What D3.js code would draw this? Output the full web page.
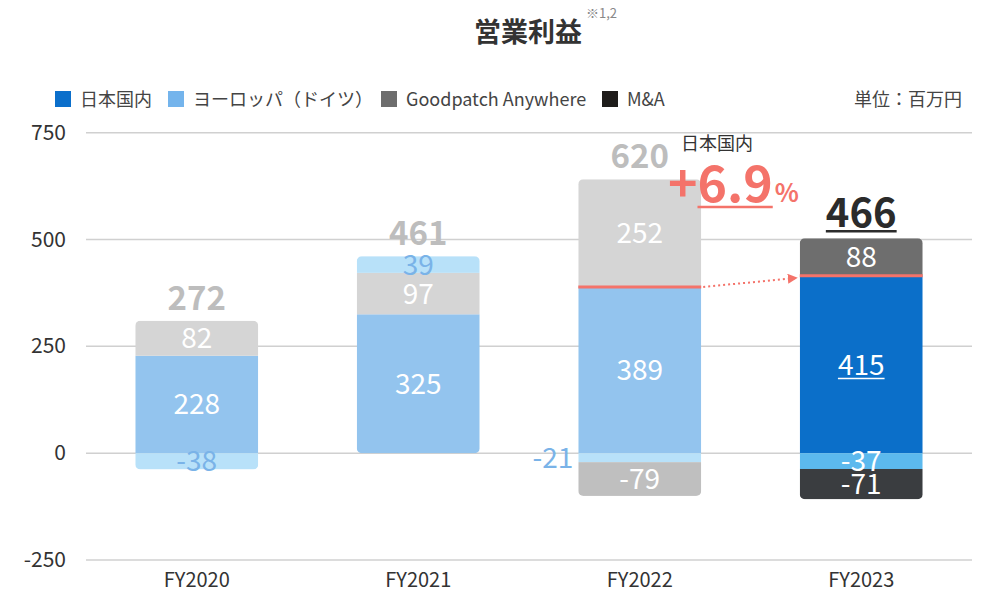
<!DOCTYPE html>
<html>
<head>
<meta charset="utf-8">
<style>
  body { margin: 0; background: #fff; }
  svg { font-family: "Noto Sans CJK JP", "Noto Sans", sans-serif; }
</style>
</head>
<body>
<svg id="chart" width="984" height="594"></svg>
<script src="https://cdn.jsdelivr.net/npm/d3@7"></script>
<script>
// data
var years    = ["FY2020", "FY2021", "FY2022", "FY2023"];
var domestic = [228, 325, 389, 415];
var europe   = [-38, 39, -21, -37];
var anywhere = [82, 97, 252, 88];
var mna      = [0, 0, -79, -71];
var totals   = [272, 461, 620, 466];
var yTicks   = [-250, 0, 250, 500, 750];

var legendNames  = ["日本国内", "ヨーロッパ（ドイツ）", "Goodpatch Anywhere", "M&A"];
var legendColors = ["#0b6fcb", "#74b4ec", "#6d6d6d", "#1e1c1a"];

var keys = ["domestic", "anywhere", "europe", "mna"];
var pastColor = {domestic: "#93c4ee", anywhere: "#d5d5d5", europe: "#b8e1f9", mna: "#bfbfbf"};
var curColor  = {domestic: "#0b6fc9", anywhere: "#6e6e6e", europe: "#5cb9ee", mna: "#3a3d40"};

var rows = years.map(function(y, i) {
    return {year: y, domestic: domestic[i], anywhere: anywhere[i], europe: europe[i], mna: mna[i], total: totals[i]};
});

var svg = d3.select("#chart");

var x = d3.scaleBand().domain(years).range([86, 972]).paddingInner(0.445).paddingOuter(0.2225);
var y = d3.scaleLinear().domain([-250, 750]).range([560, 132.7]);

// grid + y labels
svg.append("g").selectAll("line").data(yTicks).join("line")
    .attr("x1", 86).attr("x2", 972)
    .attr("y1", function(d) { return y(d); }).attr("y2", function(d) { return y(d); })
    .attr("stroke", "#d0d0d0").attr("stroke-width", 1.5);

svg.append("g").selectAll("text").data(yTicks).join("text")
    .attr("x", 66).attr("y", function(d) { return y(d) + 7; })
    .attr("text-anchor", "end").attr("font-size", 21).attr("fill", "#333")
    .text(function(d) { return d; });

// x labels
svg.append("g").selectAll("text").data(years).join("text")
    .attr("x", function(d) { return x(d) + x.bandwidth() / 2; }).attr("y", 587)
    .attr("text-anchor", "middle").attr("font-size", 20).attr("fill", "#333")
    .text(function(d) { return d; });

// stacks
var series = d3.stack().keys(keys).offset(d3.stackOffsetDiverging)(rows);

var defs = svg.append("defs");
rows.forEach(function(r, i) {
    var lo = d3.min(series, function(s) { return s[i][0]; });
    var hi = d3.max(series, function(s) { return s[i][1]; });
    defs.append("clipPath").attr("id", "clip" + i)
      .append("rect")
        .attr("x", x(r.year)).attr("width", x.bandwidth())
        .attr("y", y(hi)).attr("height", y(lo) - y(hi))
        .attr("rx", 5);
    r.top = hi;
});

var barG = svg.append("g");
series.forEach(function(s) {
    s.forEach(function(d, i) {
        if (d[1] - d[0] === 0) return;
        var cur = i === years.length - 1;
        barG.append("rect")
            .attr("clip-path", "url(#clip" + i + ")")
            .attr("x", x(years[i])).attr("width", x.bandwidth())
            .attr("y", y(d[1])).attr("height", y(d[0]) - y(d[1]))
            .attr("fill", (cur ? curColor : pastColor)[s.key]);
    });
});

// segment labels
var labelG = svg.append("g");
series.forEach(function(s) {
    s.forEach(function(d, i) {
        var v = d.data[s.key];
        if (!v) return;
        var cur = i === years.length - 1;
        var cx = x(years[i]) + x.bandwidth() / 2;
        var cy = (y(d[0]) + y(d[1])) / 2;
        var anchor = "middle";
        var fill = "#fff";
        if (s.key === "europe" && !cur) fill = "#7ab3e8";
        if (s.key === "europe" && years[i] === "FY2022") { cx = x(years[i]) - 5; anchor = "end"; }
        var t = labelG.append("text")
            .attr("x", cx).attr("y", cy + 10)
            .attr("text-anchor", anchor).attr("font-size", 28)
            .attr("fill", fill).text(v);
        if (cur && s.key === "domestic") {
            var w = t.node().getComputedTextLength();
            labelG.append("line").attr("x1", cx - w / 2).attr("x2", cx + w / 2)
                .attr("y1", cy + 14).attr("y2", cy + 14)
                .attr("stroke", "#fff").attr("stroke-width", 1.5);
        }
    });
});

// totals
rows.forEach(function(r, i) {
    var cur = i === years.length - 1;
    var cx = x(r.year) + x.bandwidth() / 2;
    var t = svg.append("text")
        .attr("x", cx).attr("y", y(r.top) - 11)
        .attr("text-anchor", "middle").attr("font-weight", "bold")
        .attr("font-size", cur ? 40 : 33)
        .attr("fill", cur ? "#2b2b2b" : "#bdbdbd")
        .text(r.total);
    if (cur) {
        var w = t.node().getComputedTextLength();
        svg.append("line").attr("x1", cx - w / 2).attr("x2", cx + w / 2)
            .attr("y1", y(r.top) - 7).attr("y2", y(r.top) - 7)
            .attr("stroke", "#2b2b2b").attr("stroke-width", 2.5);
    }
});

// red markers on domestic top (FY2022 -> FY2023)
var red = "#f4736a";
[2, 3].forEach(function(i) {
    svg.append("line")
        .attr("x1", x(years[i])).attr("x2", x(years[i]) + x.bandwidth())
        .attr("y1", y(domestic[i])).attr("y2", y(domestic[i]))
        .attr("stroke", red).attr("stroke-width", 3);
});
defs.append("marker").attr("id", "arrow")
    .attr("viewBox", "0 0 10 10").attr("refX", 10).attr("refY", 5)
    .attr("markerWidth", 5).attr("markerHeight", 5).attr("orient", "auto")
  .append("path").attr("d", "M0,0L10,5L0,10Z").attr("fill", red);
svg.append("line")
    .attr("x1", x(years[2]) + x.bandwidth() + 2).attr("y1", y(domestic[2]))
    .attr("x2", x(years[3]) - 2).attr("y2", y(domestic[3]) + 2)
    .attr("stroke", red).attr("stroke-width", 2).attr("stroke-dasharray", "2,3")
    .attr("marker-end", "url(#arrow)");

// growth annotation
svg.append("text").attr("x", 681).attr("y", 150).attr("font-size", 18).attr("fill", "#333").text("日本国内");
var plus = svg.append("text").attr("x", 668).attr("y", 202).attr("font-size", 50).attr("font-weight", "bold").attr("fill", red).text("+");
var px = 668 + plus.node().getComputedTextLength();
var num = svg.append("text").attr("x", px).attr("y", 202).attr("font-size", 50).attr("font-weight", "bold").attr("fill", red).text("6.9");
var nw = num.node().getComputedTextLength();
svg.append("line").attr("x1", px).attr("x2", px + nw).attr("y1", 207).attr("y2", 207).attr("stroke", red).attr("stroke-width", 2.5);
svg.append("text").attr("x", px + nw + 2).attr("y", 202).attr("font-size", 25).attr("font-weight", "bold").attr("fill", red).text("%");

// title
svg.append("text").attr("x", 528).attr("y", 42).attr("text-anchor", "middle")
    .attr("font-size", 27).attr("font-weight", "bold").attr("fill", "#333").text("営業利益");
svg.append("text").attr("x", 586).attr("y", 18).attr("font-size", 13).attr("fill", "#888").text("※1,2");

// legend
var legX = [55, 168, 381, 602];
var leg = svg.append("g").selectAll("g").data(legendNames).join("g")
    .attr("transform", function(d, i) { return "translate(" + legX[i] + ",91)"; });
leg.append("rect").attr("width", 16).attr("height", 16)
    .attr("fill", function(d, i) { return legendColors[i]; });
leg.append("text").attr("x", 25).attr("y", 15).attr("font-size", 18).attr("fill", "#444")
    .text(function(d) { return d; });

svg.append("text").attr("x", 962).attr("y", 106).attr("text-anchor", "end")
    .attr("font-size", 18).attr("fill", "#444").text("単位：百万円");
</script>
</body>
</html>
